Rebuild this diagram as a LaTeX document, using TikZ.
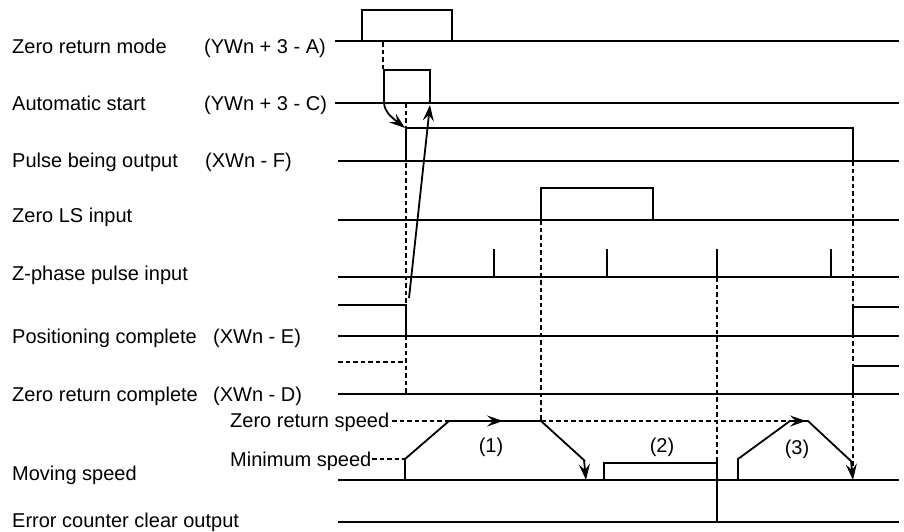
\documentclass[tikz,border=0pt]{standalone}
\usepackage{fontspec}
\setmainfont{Liberation Sans}
\usetikzlibrary{arrows.meta}
\begin{document}
\begin{tikzpicture}[x=1pt,y=-1pt,
  sig/.style={line width=1.8pt,line cap=butt,line join=miter},
  dsh/.style={line width=1.8pt,dash pattern=on 4.5pt off 3pt},
  lbl/.style={anchor=base west,inner sep=0pt,font=\fontsize{20}{24}\selectfont},
  num/.style={anchor=center,inner sep=0pt,font=\fontsize{20}{24}\selectfont},
  tip/.style={-{Stealth[length=16pt,width=11pt,inset=6pt]}}]
\useasboundingbox (0,0) rectangle (904,531);
% labels
\node[lbl] (l1) at (12,53) {Zero return mode};
\node[lbl] (l1b) at (204,53) {(YWn + 3 - A)};
\node[lbl] (l2) at (12,110) {Automatic start};
\node[lbl] (l2b) at (204,110) {(YWn + 3 - C)};
\node[lbl] (l3) at (12,167) {Pulse being output};
\node[lbl] (l3b) at (205,167) {(XWn - F)};
\node[lbl] (l4) at (12,222) {Zero LS input};
\node[lbl] (l5) at (12,280) {Z-phase pulse input};
\node[lbl] (l6) at (12,343) {Positioning complete};
\node[lbl] (l6b) at (213,343) {(XWn - E)};
\node[lbl] (l7) at (12,401) {Zero return complete};
\node[lbl] (l7b) at (213,401) {(XWn - D)};
\node[lbl] (zs) at (230,427) {Zero return speed};
\node[lbl] (ms) at (230,466) {Minimum speed};
\node[lbl] (l8) at (12,480) {Moving speed};
\node[lbl] (l9) at (12,527) {Error counter clear output};
\node[num] (n1) at (491,447) {(1)};
\node[num] (n2) at (662,447) {(2)};
\node[num] (n3) at (797,449) {(3)};
% dashed timing guides
\draw[dsh] (383,42) -- (383,70);
\draw[dsh] (406,103) -- (406,394);
\draw[dsh] (338,362) -- (406,362);
\draw[dsh] (541,220) -- (541,421);
\draw[dsh] (717,277) -- (717,480);
\draw[dsh] (853,161) -- (853,466);
\draw[dsh] (392,421) -- (449,421);
\draw[dsh] (372,459) -- (405,459);
\draw[dsh,tip] (541,421) -- (806,421);
% Zero return mode
\draw[sig] (335,41) -- (899,41);
\draw[sig] (362,41) -- (362,10) -- (452,10) -- (452,41);
% Automatic start
\draw[sig] (335,103) -- (899,103);
\draw[sig] (384,103) -- (384,70) -- (430,70) -- (430,103);
% Pulse being output
\draw[sig] (338,161) -- (899,161);
\draw[sig] (406,161) -- (406,128) -- (853,128) -- (853,161);
% Zero LS input
\draw[sig] (338,220) -- (899,220);
\draw[sig] (541,220) -- (541,188) -- (653,188) -- (653,220);
% Z-phase pulse input
\draw[sig] (338,277) -- (899,277);
\foreach \x in {494,607,717,831} \draw[sig] (\x,277) -- (\x,249);
% Positioning complete
\draw[sig] (338,336) -- (899,336);
\draw[sig] (338,305) -- (406,305) -- (406,336);
\draw[sig] (853,336) -- (853,307) -- (899,307);
% Zero return complete
\draw[sig] (338,394) -- (899,394);
\draw[sig] (853,394) -- (853,366) -- (899,366);
% Moving speed
\draw[sig] (338,480) -- (899,480);
\draw[sig] (405,480) -- (405,459) -- (449,421) -- (541,421) -- (585,461);
\draw[sig,tip] (449,421) -- (503,421);
\draw[sig,tip] (584,460) -- (586,480);
\draw[sig] (604,480) -- (604,463) -- (717,463) -- (717,480);
\draw[sig] (738,480) -- (738,459) -- (790,421) -- (808,421) -- (852,462);
\draw[sig,tip] (851,461) -- (853,480);
% Error counter clear output
\draw[sig] (338,522) -- (899,522);
\draw[sig] (717,522) -- (717,480);
% causal arrows
\draw[sig,tip] (384,103) .. controls (385,112) and (390,116) .. (405,128);
\draw[sig,tip] (409,298) -- (430,105);
\end{tikzpicture}
\end{document}
